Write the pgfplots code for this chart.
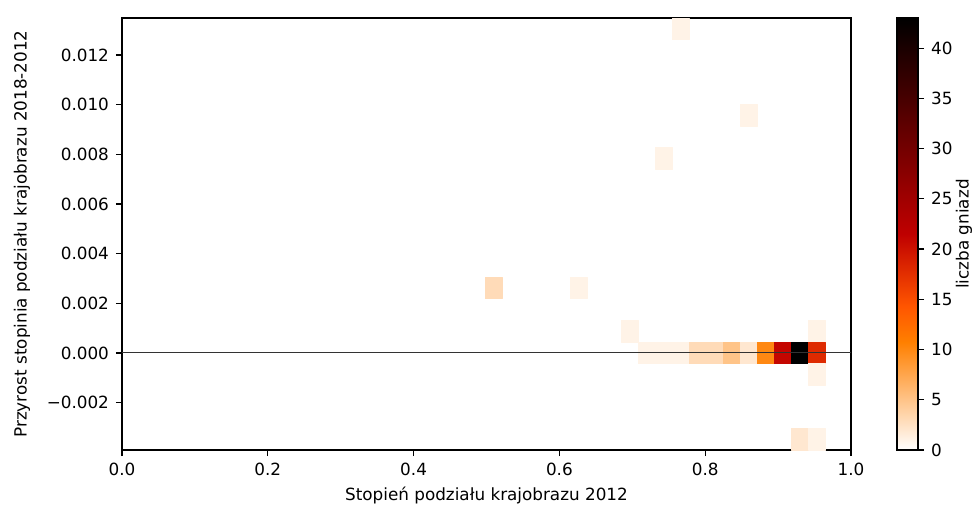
\documentclass[border=0pt]{standalone}
\usepackage{fontspec}
\setmainfont{DejaVu Sans}
\usepackage{pgfplots}
\pgfplotsset{compat=1.18}
\usetikzlibrary{calc}

% matplotlib gist_heat_r
\pgfplotsset{
  colormap={gistheatr}{rgb(0cm)=(1,1,1) rgb(3cm)=(1,0.5,0) rgb(4cm)=(1,0.3333,0) rgb(6cm)=(0.75,0,0) rgb(12cm)=(0,0,0)},
  colorbar shift/.style={},
  /pgf/number format/assume math mode=true,
}

\begin{document}
\begin{tikzpicture}[font=\fontsize{8.4}{10}\selectfont]
\begin{axis}[
  name=ax,
  scale only axis,
  width=364.5pt, height=216pt,
  xmin=0, xmax=1, ymin=-0.00391, ymax=0.01349,
  xtick={0,0.2,0.4,0.6,0.8,1},
  xticklabels={0.0,0.2,0.4,0.6,0.8,1.0},
  ytick={-0.002,0,0.002,0.004,0.006,0.008,0.010,0.012},
  yticklabels={−0.002,0.000,0.002,0.004,0.006,0.008,0.010,0.012},
  scaled ticks=false,
  tick align=outside,
  major tick length=3pt,
  xtick pos=bottom, ytick pos=left,
  axis line style={line width=0.6pt},
  every tick/.style={black, line width=0.6pt},
  xlabel={Stopień podziału krajobrazu 2012},
  ylabel={Przyrost stopinia podziału krajobrazu 2018-2012},
  every axis x label/.style={at={(axis description cs:0.5,0)}, yshift=-22.5pt, anchor=center},
  every axis y label/.style={at={(axis description cs:0,0.5)}, xshift=-50pt, rotate=90, anchor=center},
  colormap name=gistheatr,
  point meta min=0, point meta max=43,
  colorbar right,
  colorbar style={
    at={(parent axis.north east)}, anchor=north west, xshift=14.5pt,
    width=10.5pt,
    ytick={0,5,10,15,20,25,30,35,40},
    ytick pos=right,
    tick align=outside,
    major tick length=3pt,
    axis line style={line width=0.6pt},
    every tick/.style={black, line width=0.6pt},
    ylabel={liczba gniazd},
    every axis y label/.style={at={(axis description cs:1,0.5)}, xshift=23pt, rotate=90, anchor=center},
  },
]
% 2D histogram cells: four corners each, count as meta
\addplot[patch, patch type=rectangle, shader=flat, point meta=explicit]
table[meta=c] {
x y c
0.7544 0.01262 1
0.7777 0.01262 1
0.7777 0.01349 1
0.7544 0.01349 1
0.8477 0.00914 1
0.8710 0.00914 1
0.8710 0.01001 1
0.8477 0.01001 1
0.7311 0.00740 1
0.7544 0.00740 1
0.7544 0.00827 1
0.7311 0.00827 1
0.4979 0.00218 3
0.5212 0.00218 3
0.5212 0.00305 3
0.4979 0.00305 3
0.6145 0.00218 1
0.6378 0.00218 1
0.6378 0.00305 1
0.6145 0.00305 1
0.6845 0.00044 1
0.7078 0.00044 1
0.7078 0.00131 1
0.6845 0.00131 1
0.9410 0.00044 1
0.9643 0.00044 1
0.9643 0.00131 1
0.9410 0.00131 1
0.7078 -0.00043 1
0.7311 -0.00043 1
0.7311 0.00044 1
0.7078 0.00044 1
0.7311 -0.00043 1
0.7544 -0.00043 1
0.7544 0.00044 1
0.7311 0.00044 1
0.7544 -0.00043 1
0.7777 -0.00043 1
0.7777 0.00044 1
0.7544 0.00044 1
0.7777 -0.00043 3
0.8011 -0.00043 3
0.8011 0.00044 3
0.7777 0.00044 3
0.8011 -0.00043 3
0.8244 -0.00043 3
0.8244 0.00044 3
0.8011 0.00044 3
0.8244 -0.00043 5
0.8477 -0.00043 5
0.8477 0.00044 5
0.8244 0.00044 5
0.8477 -0.00043 2
0.8710 -0.00043 2
0.8710 0.00044 2
0.8477 0.00044 2
0.8710 -0.00043 10
0.8943 -0.00043 10
0.8943 0.00044 10
0.8710 0.00044 10
0.8943 -0.00043 21
0.9177 -0.00043 21
0.9177 0.00044 21
0.8943 0.00044 21
0.9177 -0.00043 43
0.9410 -0.00043 43
0.9410 0.00044 43
0.9177 0.00044 43
0.9410 -0.00043 18
0.9643 -0.00043 18
0.9643 0.00044 18
0.9410 0.00044 18
0.9410 -0.00130 1
0.9643 -0.00130 1
0.9643 -0.00043 1
0.9410 -0.00043 1
0.9177 -0.00391 2
0.9410 -0.00391 2
0.9410 -0.00304 2
0.9177 -0.00304 2
0.9410 -0.00391 1
0.9643 -0.00391 1
0.9643 -0.00304 1
0.9410 -0.00304 1
};
\addplot[black!80, line width=0.5pt] coordinates {(0,0) (1,0)};
\end{axis}
\pgfresetboundingbox
\path ($(ax.south west)+(-61pt,-29pt)$) rectangle ($(ax.south west)+(428.5pt,225pt)$);
\end{tikzpicture}
\end{document}
